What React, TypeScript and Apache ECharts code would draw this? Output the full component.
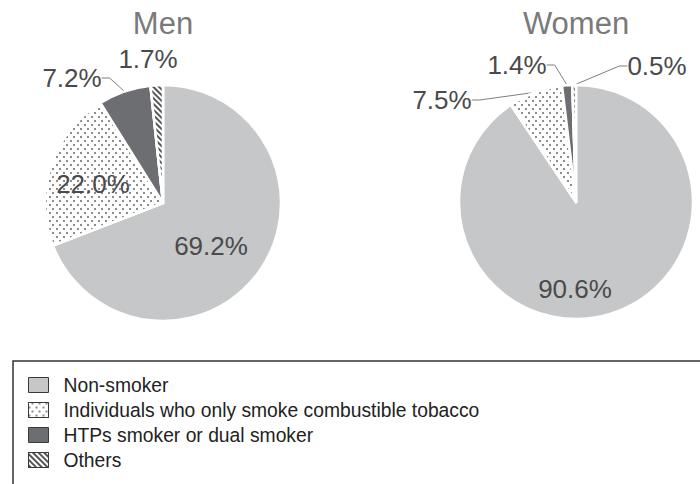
import React, { useEffect, useRef } from 'react';
import * as echarts from 'echarts';

const categories = [
  'Non-smoker',
  'Individuals who only smoke combustible tobacco',
  'HTPs smoker or dual smoker',
  'Others',
];
const menValues = [69.2, 22.0, 7.2, 1.7];
const womenValues = [90.6, 7.5, 1.4, 0.5];
const groupTitles = ['Men', 'Women'];

// layout (not data)
const pieCenters = [[163, 203], [576, 202]];
const pieRadii = [118, 117];
const labelPositions = [
  [[211, 246], [93, 184], [72, 78], [148, 59]],
  [[575, 289], [442, 100], [517, 65], [657, 66]],
];
const labelOutside = [
  [false, false, true, true],
  [false, true, true, true],
];
const leaderShown = [
  [false, false, true, false],
  [false, true, true, true],
];

const FONT = 'Arial, "Liberation Sans", sans-serif';

const dotDecal = {
  symbol: 'rect',
  symbolSize: 1,
  color: '#8c8c8c',
  dashArrayX: [[1.5, 4.5], [0, 3, 1.5, 1.5]],
  dashArrayY: [1.5, 1.5],
  rotation: 0,
};
const hatchDecal = {
  symbol: 'rect',
  symbolSize: 1,
  color: '#555555',
  dashArrayX: [1, 0],
  dashArrayY: [1.6, 1.6],
  rotation: Math.PI / 4,
};

const sliceStyles = [
  { color: '#c6c7c8' },
  { color: '#ffffff', decal: dotDecal },
  { color: '#6d6e71' },
  { color: '#ffffff', decal: hatchDecal },
];

function buildSeries(values: number[], si: number) {
  return {
    type: 'pie',
    center: pieCenters[si],
    radius: pieRadii[si],
    startAngle: 90,
    clockwise: true,
    avoidLabelOverlap: false,
    itemStyle: { borderColor: '#ffffff', borderWidth: 2.5 },
    emphasis: { disabled: true },
    labelLine: { lineStyle: { color: '#7f7f7f', width: 1 }, length: 8, length2: 8 },
    labelLayout: (p: any) => {
      const pos = labelPositions[si][p.dataIndex];
      return { x: pos[0], y: pos[1], align: 'center', verticalAlign: 'middle' };
    },
    data: values.map((v, i) => ({
      name: categories[i],
      value: v,
      itemStyle: { ...sliceStyles[i] },
      label: {
        show: true,
        position: labelOutside[si][i] ? 'outside' : 'inside',
        formatter: `${v.toFixed(1)}%`,
        fontSize: 26,
        fontFamily: FONT,
        color: '#4a4a4a',
      },
      labelLine: { show: leaderShown[si][i] },
    })),
  };
}

export default function App() {
  const ref = useRef<HTMLDivElement>(null);
  useEffect(() => {
    if (!ref.current) return;
    const chart = echarts.init(ref.current, undefined, { renderer: 'svg' });
    chart.setOption({
      animation: false,
      backgroundColor: '#ffffff',
      legend: {
        data: categories,
        orient: 'vertical',
        left: 23,
        top: 370,
        itemWidth: 20,
        itemHeight: 15,
        itemGap: 5,
        selectedMode: false,
        icon: 'rect',
        itemStyle: { borderColor: '#3a3a3a', borderWidth: 1 },
        textStyle: {
          fontSize: 19.3,
          lineHeight: 20,
          fontFamily: FONT,
          color: '#222222',
          padding: [0, 0, 0, 10],
        },
      },
      graphic: [
        {
          type: 'rect',
          shape: { x: 13, y: 361, width: 720, height: 160 },
          style: { fill: 'none', stroke: '#333333', lineWidth: 1.5 },
          silent: true,
        },
        ...groupTitles.map((t, i) => ({
          type: 'text',
          x: pieCenters[i][0],
          y: 23,
          style: {
            text: t,
            fontSize: 31,
            fontFamily: FONT,
            fill: '#7a7a7a',
            textAlign: 'center',
            textVerticalAlign: 'middle',
          },
          silent: true,
        })),
      ],
      series: [buildSeries(menValues, 0), buildSeries(womenValues, 1)],
    });
    return () => chart.dispose();
  }, []);
  return (
    <div
      ref={ref}
      style={{ position: 'fixed', left: 0, top: 0, width: 700, height: 484 }}
    />
  );
}
